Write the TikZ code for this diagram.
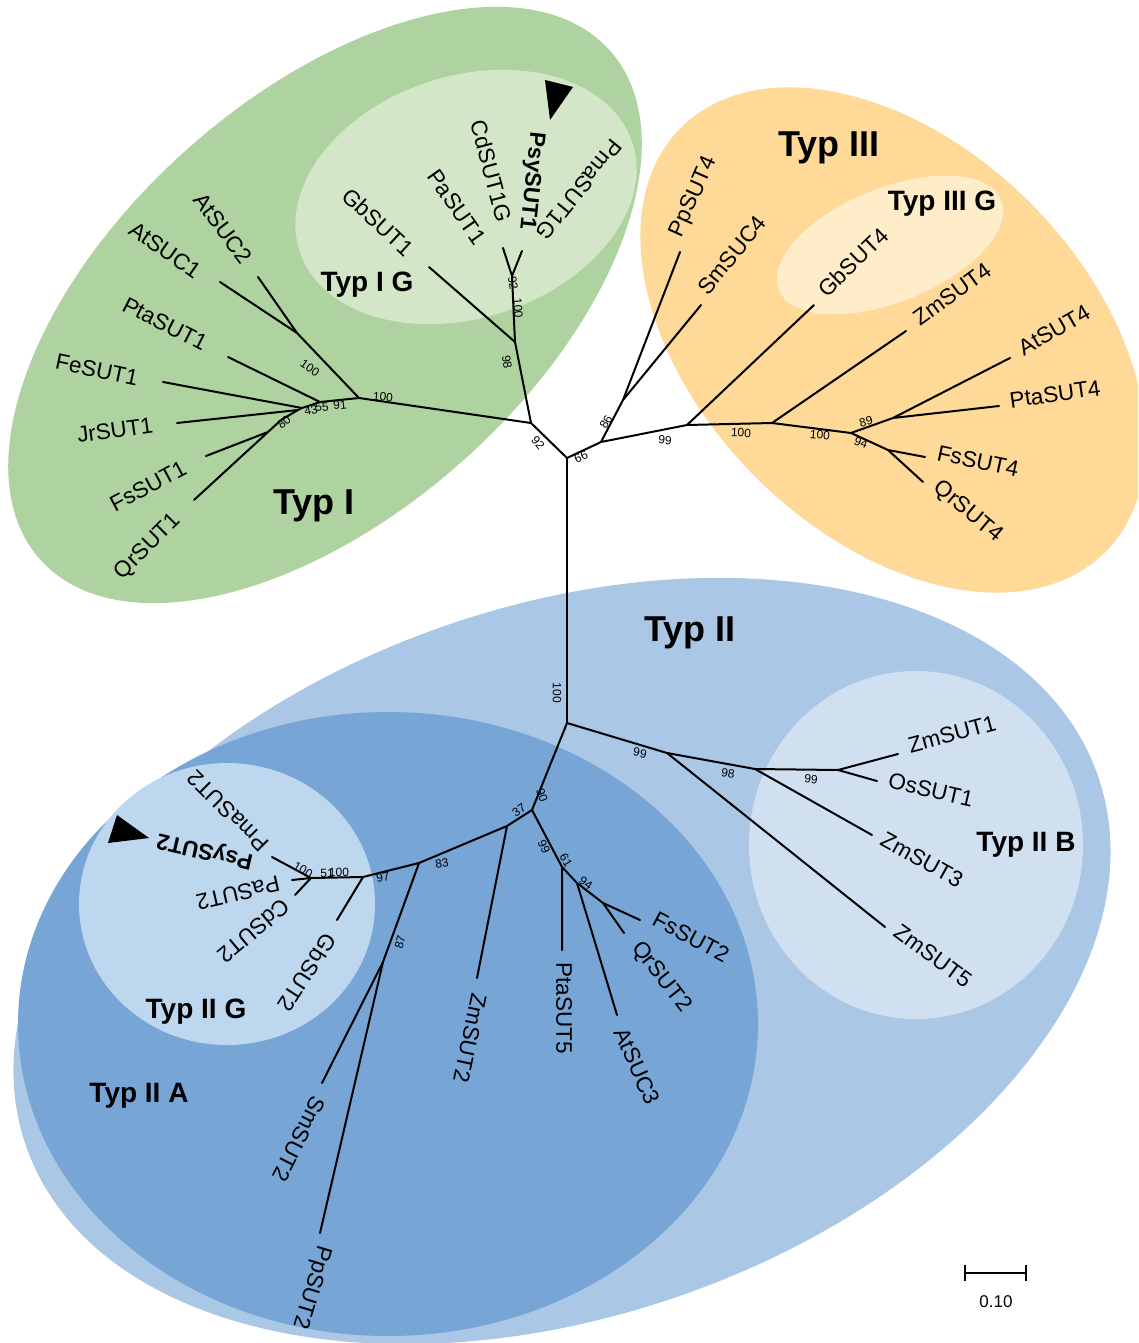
\documentclass[tikz,border=0pt]{standalone}
\usepackage{fontspec}
\setmainfont{Liberation Sans}
\definecolor{gBig}{HTML}{AED2A0}
\definecolor{gLight}{HTML}{D4E6C8}
\definecolor{oBig}{HTML}{FED998}
\definecolor{oLight}{HTML}{FFECC8}
\definecolor{bBig}{HTML}{ABC7E6}
\definecolor{bMid}{HTML}{76A5D6}
\definecolor{bIIG}{HTML}{BDD7EE}
\definecolor{bIIB}{HTML}{D1E0F1}
\begin{document}
\begin{tikzpicture}[x=1pt,y=-1pt,
  lbl/.style={font=\fontsize{22.5}{25}\selectfont, inner sep=0pt},
  lblb/.style={font=\fontsize{22.5}{25}\selectfont\bfseries, inner sep=0pt},
  bs/.style={font=\fontsize{12}{13}\selectfont, inner sep=0pt},
  typbig/.style={font=\fontsize{36}{40}\selectfont\bfseries, inner sep=0pt},
  typsub/.style={font=\fontsize{28}{32}\selectfont\bfseries, inner sep=0pt},
  tree/.style={line width=2pt, line cap=round, line join=round},
  marker/.style={fill=black}]
\useasboundingbox (0,0) rectangle (1138,1343);
\clip (0,0) rectangle (1138,1343);
\fill[white] (0,0) rectangle (1138,1343);

% ---- group backgrounds ----
\fill[gBig, rotate around={41.8:(325,305)}] (325,305) ellipse [x radius=382, y radius=208];
\fill[gLight, rotate around={18:(466,197)}] (466,197) ellipse [x radius=175, y radius=121];
\fill[oBig, rotate around={-45:(893,340)}] (893,340) ellipse [x radius=300, y radius=194];
\fill[oLight, rotate around={22:(890,245)}] (890,245) ellipse [x radius=120, y radius=57];
\fill[bBig, rotate around={19:(562,961)}] (562,961) ellipse [x radius=567, y radius=355];
\fill[bMid] (388,1024) ellipse [x radius=370, y radius=312];
\fill[bIIB] (916,845) ellipse [x radius=167, y radius=174];
\fill[bIIG] (227,904) ellipse [x radius=148, y radius=141];

% ---- tree coordinates ----
\coordinate (R) at (567,458);
\coordinate (T1) at (531,423);
\coordinate (G1) at (515,342);
\coordinate (tGbSUT1) at (429,267);
\coordinate (G2) at (512,276);
\coordinate (tPaSUT1) at (503,248);
\coordinate (tPsySUT1) at (522,251);
\coordinate (I1) at (359,398);
\coordinate (A) at (297,333);
\coordinate (tAtSUC2) at (258,277);
\coordinate (tAtSUC1) at (220,282);
\coordinate (B) at (320,402);
\coordinate (tPtaSUT1) at (228,357);
\coordinate (C) at (302,408);
\coordinate (tFeSUT1) at (163,382);
\coordinate (D) at (298,410);
\coordinate (tJrSUT1) at (177,423);
\coordinate (E) at (281,420);
\coordinate (F) at (268,432);
\coordinate (tFsSUT1) at (206,456);
\coordinate (tQrSUT1) at (194,500);

\coordinate (N66) at (601,442);
\coordinate (N86) at (623,400);
\coordinate (tPpSUT4) at (680,252);
\coordinate (tSmSUC4) at (701,305);
\coordinate (N99) at (687,425);
\coordinate (tGbSUT4) at (814,305);
\coordinate (N100a) at (772,423);
\coordinate (tZmSUT4) at (906,331);
\coordinate (N100b) at (851,433);
\coordinate (N89) at (893,418);
\coordinate (tAtSUT4) at (1010,358);
\coordinate (tPtaSUT4) at (999,406);
\coordinate (N94) at (888,450);
\coordinate (tFsSUT4) at (925,457);
\coordinate (tQrSUT4) at (923,482);

\coordinate (N100) at (567,723);
\coordinate (N99B) at (667,753);
\coordinate (tZmSUT5) at (885,927);
\coordinate (N98) at (755,769);
\coordinate (tZmSUT3) at (872,835);
\coordinate (N99c) at (838,770);
\coordinate (tZmSUT1) at (898,754);
\coordinate (tOsSUT1) at (877,781);
\coordinate (N90) at (532,810);
\coordinate (N37) at (507,826);
\coordinate (tZmSUT2) at (477,978);
\coordinate (N83) at (419,863);
\coordinate (N87) at (383,962);
\coordinate (tSmSUT2) at (322,1083);
\coordinate (tPpSUT2) at (320,1233);
\coordinate (N97) at (363,877);
\coordinate (tGbSUT2) at (337,920);
\coordinate (N100g) at (311,878);
\coordinate (tPmaSUT2) at (272,857);
\coordinate (tPsySUT2) at (292,880);
\coordinate (tPaSUT2) at (295,895);
\coordinate (N61) at (562,867);
\coordinate (tPtaSUT5) at (562,950);
\coordinate (N94x) at (577,883);
\coordinate (tAtSUC3) at (617,1015);
\coordinate (N94y) at (603,903);
\coordinate (tQrSUT2) at (624,933);
\coordinate (tFsSUT2) at (640,920);

% ---- tree ----
\draw[tree] (N100) -- (R);
\draw[tree] (R) -- (T1) -- (G1) -- (tGbSUT1);
\draw[tree] (G1) -- (G2) -- (tPaSUT1);
\draw[tree] (G2) -- (tPsySUT1);
\draw[tree] (T1) -- (I1) -- (A) -- (tAtSUC1);
\draw[tree] (A) -- (tAtSUC2);
\draw[tree] (I1) -- (B) -- (tPtaSUT1);
\draw[tree] (B) -- (C) -- (tFeSUT1);
\draw[tree] (C) -- (D) -- (tJrSUT1);
\draw[tree] (D) -- (E) -- (F) -- (tQrSUT1);
\draw[tree] (F) -- (tFsSUT1);

\draw[tree] (R) -- (N66) -- (N86) -- (tPpSUT4);
\draw[tree] (N86) -- (tSmSUC4);
\draw[tree] (N66) -- (N99) -- (tGbSUT4);
\draw[tree] (N99) -- (N100a) -- (tZmSUT4);
\draw[tree] (N100a) -- (N100b) -- (N89) -- (tAtSUT4);
\draw[tree] (N89) -- (tPtaSUT4);
\draw[tree] (N100b) -- (N94) -- (tFsSUT4);
\draw[tree] (N94) -- (tQrSUT4);

\draw[tree] (N100) -- (N99B) -- (tZmSUT5);
\draw[tree] (N99B) -- (N98) -- (tZmSUT3);
\draw[tree] (N98) -- (N99c) -- (tZmSUT1);
\draw[tree] (N99c) -- (tOsSUT1);
\draw[tree] (N100) -- (N90) -- (N37) -- (tZmSUT2);
\draw[tree] (N37) -- (N83) -- (N87) -- (tSmSUT2);
\draw[tree] (N87) -- (tPpSUT2);
\draw[tree] (N83) -- (N97) -- (tGbSUT2);
\draw[tree] (N97) -- (N100g) -- (tPmaSUT2);
\draw[tree] (N100g) -- (tPsySUT2);
\draw[tree] (N100g) -- (tPaSUT2);
\draw[tree] (N90) -- (N61) -- (tPtaSUT5);
\draw[tree] (N61) -- (N94x) -- (tAtSUC3);
\draw[tree] (N94x) -- (N94y) -- (tQrSUT2);
\draw[tree] (N94y) -- (tFsSUT2);

% ---- leaf labels: Typ I ----
\node[lbl, rotate=-53] (lAtSUC2) at (223,228) {AtSUC2};
\node[lbl, rotate=-35] (lAtSUC1) at (165,250) {AtSUC1};
\node[lbl, rotate=-27] (lPtaSUT1) at (165,324) {PtaSUT1};
\node[lbl, rotate=-12] (lFeSUT1) at (97,370) {FeSUT1};
\node[lbl, rotate=8] (lJrSUT1) at (115,430) {JrSUT1};
\node[lbl, rotate=28] (lFsSUT1) at (148,486) {FsSUT1};
\node[lbl, rotate=45] (lQrSUT1) at (148,547) {QrSUT1};
\node[lbl, rotate=-43] (lGbSUT1) at (378,222) {GbSUT1};
\node[lbl, rotate=-55] (lPaSUT1) at (457,207) {PaSUT1};
\node[lbl, rotate=-75] (lCdSUT1G) at (491,171) {CdSUT1G};
\node[lblb, rotate=-96] (lPsySUT1) at (531,181) {PsySUT1};
\node[lbl, rotate=-129] (lPmaSUT1G) at (579,190) {PmaSUT1G};

% ---- leaf labels: Typ III ----
\node[lbl, rotate=66] (lPpSUT4) at (694,197) {PpSUT4};
\node[lbl, rotate=51] (lSmSUC4) at (732,255) {SmSUC4};
\node[lbl, rotate=44] (lGbSUT4) at (853,262) {GbSUT4};
\node[lbl, rotate=36] (lZmSUT4) at (952,294) {ZmSUT4};
\node[lbl, rotate=30] (lAtSUT4) at (1054,330) {AtSUT4};
\node[lbl, rotate=8] (lPtaSUT4) at (1055,394) {PtaSUT4};
\node[lbl, rotate=-12] (lFsSUT4) at (978,461) {FsSUT4};
\node[lbl, rotate=-40] (lQrSUT4) at (968,512) {QrSUT4};

% ---- leaf labels: Typ II ----
\node[lbl, rotate=15] (lZmSUT1) at (952,734) {ZmSUT1};
\node[lbl, rotate=-13] (lOsSUT1) at (931,790) {OsSUT1};
\node[lbl, rotate=-29] (lZmSUT3) at (922,860) {ZmSUT3};
\node[lbl, rotate=-36] (lZmSUT5) at (933,956) {ZmSUT5};
\node[lbl, rotate=-28] (lFsSUT2) at (691,937) {FsSUT2};
\node[lbl, rotate=-52] (lQrSUT2) at (661,977) {QrSUT2};
\node[lbl, rotate=-66] (lAtSUC3) at (637,1066) {AtSUC3};
\node[lbl, rotate=-90] (lPtaSUT5) at (564,1008) {PtaSUT5};
\node[lbl, rotate=-102] (lZmSUT2) at (470,1038) {ZmSUT2};
\node[lbl, rotate=-117] (lSmSUT2) at (299,1139) {SmSUT2};
\node[lbl, rotate=-107] (lPpSUT2) at (311,1287) {PpSUT2};
\node[lbl, rotate=-123] (lGbSUT2) at (307,973) {GbSUT2};
\node[lbl, rotate=-140] (lCdSUT2) at (254,931) {CdSUT2};
\node[lbl, rotate=-167] (lPaSUT2) at (238,893) {PaSUT2};
\node[lblb, rotate=167] (lPsySUT2) at (205,850) {PsySUT2};
\node[lbl, rotate=135] (lPmaSUT2) at (228,811) {PmaSUT2};

% ---- markers ----
\fill[marker] (545,80) -- (573,87) -- (550,120) -- cycle;
\fill[marker] (117,815) -- (149,838) -- (108,843) -- cycle;

% ---- bootstrap values ----
\node[bs, rotate=-50] (b1) at (538,443) {92};
\node[bs, rotate=25] (b2) at (581,457) {66};
\node[bs, rotate=60] (b3) at (606,422) {86};
\node[bs, rotate=-5] (b4) at (665,440) {99};
\node[bs, rotate=-3] (b5) at (741,433) {100};
\node[bs, rotate=-5] (b6) at (820,435) {100};
\node[bs, rotate=15] (b7) at (866,422) {89};
\node[bs, rotate=-20] (b8) at (861,443) {94};
\node[bs, rotate=-5] (b9) at (383,397) {100};
\node[bs, rotate=-35] (b10) at (310,368) {100};
\node[bs, rotate=5] (b11) at (340,405) {91};
\node[bs, rotate=10] (b12) at (311,410) {43};
\node[bs, rotate=5] (b13) at (322,407) {55};
\node[bs, rotate=40] (b14) at (284,422) {80};
\node[bs, rotate=-80] (b15) at (507,362) {98};
\node[bs, rotate=-85] (b16) at (518,308) {100};
\node[bs, rotate=-80] (b17) at (513,283) {92};
\node[bs, rotate=-90] (b18) at (557,693) {100};
\node[bs, rotate=-10] (b19) at (640,753) {99};
\node[bs, rotate=-8] (b20) at (728,773) {98};
\node[bs, rotate=-5] (b21) at (811,779) {99};
\node[bs, rotate=-70] (b22) at (542,795) {90};
\node[bs, rotate=35] (b23) at (519,810) {37};
\node[bs, rotate=10] (b24) at (442,863) {83};
\node[bs, rotate=75] (b25) at (400,942) {87};
\node[bs, rotate=10] (b26) at (383,877) {97};
\node[bs, rotate=-65] (b27) at (544,847) {99};
\node[bs, rotate=-60] (b28) at (566,860) {61};
\node[bs, rotate=-35] (b29) at (586,883) {94};
\node[bs, rotate=-30] (b30) at (303,870) {100};
\node[bs] (b31) at (327,873) {51};
\node[bs] (b32) at (339,872) {100};

% ---- group labels ----
\node[typbig] (tI) at (314,506) {Typ I};
\node[typbig] (tII) at (690,633) {Typ II};
\node[typbig] (tIII) at (829,148) {Typ III};
\node[typsub] (tIG) at (367,285) {Typ I G};
\node[typsub] (tIIIG) at (942,204) {Typ III G};
\node[typsub] (tIIG) at (196,1012) {Typ II G};
\node[typsub] (tIIA) at (139,1096) {Typ II A};
\node[typsub] (tIIB) at (1026,845) {Typ II B};

% ---- scale bar ----
\coordinate (sbL) at (965,1273);
\coordinate (sbR) at (1026,1273);
\draw[line width=2.5pt] (sbL) -- (sbR);
\draw[line width=2.5pt] ([yshift=-8pt]sbL) -- ([yshift=8pt]sbL);
\draw[line width=2.5pt] ([yshift=-8pt]sbR) -- ([yshift=8pt]sbR);
\node[font=\fontsize{17}{19}\selectfont, inner sep=0pt] (sbT) at (996,1302) {0.10};
\end{tikzpicture}
\end{document}
